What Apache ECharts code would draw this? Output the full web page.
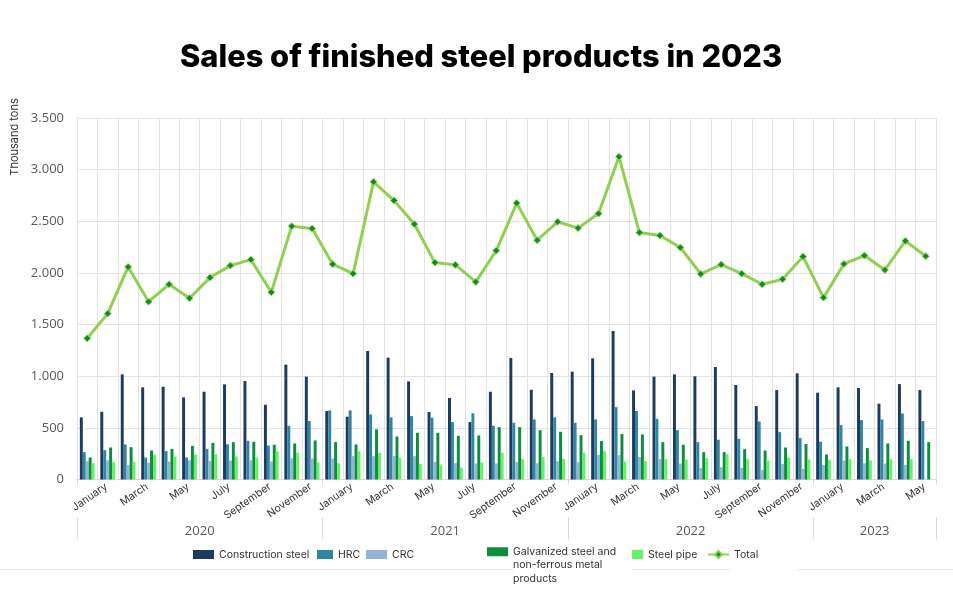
<!DOCTYPE html>
<html>
<head>
<meta charset="utf-8">
<script src="https://cdn.jsdelivr.net/npm/echarts@6.0.0/dist/echarts.min.js"></script>
<style>
  html, body { margin: 0; padding: 0; background: #fff; }
  #chart { width: 953px; height: 599px; }
</style>
</head>
<body>
<div id="chart"></div>
<script>
const titleText = 'Sales of finished steel products in 2023';
const yAxisTitle = 'Thousand tons';
const years = ['2020', '2021', '2022', '2023'];
const monthsPerYear = [12, 12, 12, 6];
const monthNames = ['January', 'February', 'March', 'April', 'May', 'June',
  'July', 'August', 'September', 'October', 'November', 'December'];
const yMin = 0, yMax = 3500, yStep = 500;

const seriesNames = ['Construction steel', 'HRC', 'CRC',
  'Galvanized steel and non-ferrous metal products', 'Steel pipe', 'Total'];
const galvLegendLines = ['Galvanized steel and', 'non-ferrous metal', 'products'];

const constructionSteel = [
  601, 656, 1018, 892, 898, 795, 850, 921, 953, 724, 1112, 996,
  663, 608, 1244, 1180, 950, 653, 789, 556, 850, 1177, 869, 1031,
  1044, 1173, 1438, 863, 996, 1018, 999, 1089, 915, 711, 866, 1028,
  840, 892, 886, 734, 924, 866];
const hrc = [
  265, 284, 339, 213, 275, 213, 297, 342, 375, 329, 520, 566,
  669, 669, 630, 601, 614, 598, 556, 640, 520, 549, 582, 601,
  549, 582, 701, 663, 588, 478, 362, 385, 394, 562, 459, 401,
  366, 527, 575, 582, 640, 566];
const crc = [
  178, 187, 142, 162, 174, 187, 178, 184, 187, 174, 207, 204,
  204, 226, 226, 226, 226, 171, 158, 155, 155, 168, 158, 178,
  168, 239, 236, 217, 197, 155, 110, 120, 113, 91, 149, 103,
  139, 184, 158, 155, 142, null];
const galvanized = [
  213, 310, 313, 281, 297, 326, 355, 362, 365, 336, 349, 378,
  362, 339, 485, 417, 452, 452, 423, 427, 507, 507, 478, 462,
  430, 372, 440, 436, 362, 336, 265, 265, 294, 281, 310, 343,
  242, 320, 304, 349, 375, 362];
const steelPipe = [
  158, 168, 171, 236, 223, 242, 245, 223, 210, 275, 259, 165,
  158, 275, 259, 210, 149, 139, 116, 165, 259, 197, 217, 200,
  259, 275, 174, 178, 197, 194, 207, 245, 197, 184, 213, 194,
  189, 197, 184, 197, 197, null];
const total = [
  1367, 1606, 2058, 1722, 1890, 1755, 1955, 2071, 2129, 1813, 2453, 2430,
  2085, 1993, 2882, 2701, 2472, 2100, 2078, 1913, 2216, 2676, 2317, 2495,
  2434, 2575, 3125, 2391, 2362, 2246, 1990, 2081, 1993, 1890, 1939, 2158,
  1761, 2087, 2168, 2029, 2310, 2162];

const barColors = ['#1d3a60', '#2f86a0', '#95b3d7', '#0b8f3e', '#63f263'];
const barData = [constructionSteel, hrc, crc, galvanized, steelPipe];

// derived categories
const categories = [];
const monthLabels = [];
const starts = [];
let acc = 0;
years.forEach((y, i) => {
  starts.push(acc);
  for (let m = 0; m < monthsPerYear[i]; m++) {
    categories.push(monthNames[m] + ' ' + y);
    monthLabels.push(monthNames[m]);
  }
  acc += monthsPerYear[i];
});
const N = categories.length;
const isStart = (i) => starts.indexOf(i) >= 0;

// title font size fitted to target width
const cnv = document.createElement('canvas').getContext('2d');
cnv.font = '800 28px Inter';
const titleSize = Math.round(28 * 603 / cnv.measureText(titleText).width * 10) / 10;

const GL = 77, GT = 118, GW = 859, GH = 361.5;
const fmtThousands = (v) => String(v).replace(/\B(?=(\d{3})+(?!\d))/g, '.');

const chart = echarts.init(document.getElementById('chart'), null, { renderer: 'canvas' });

const legendCommon = {
  orient: 'horizontal', padding: 0, itemGap: 0, selectedMode: false,
  textStyle: { fontFamily: 'Inter', fontSize: 10.5, color: '#333' }
};

const option = {
  backgroundColor: '#ffffff',
  animation: false,
  title: {
    text: titleText, left: 180, top: 42, padding: 0,
    textStyle: { fontFamily: 'Inter', fontWeight: 800, fontSize: titleSize, color: '#000' }
  },
  grid: [
    { left: GL, top: GT, width: GW, height: GH, outerBoundsMode: 'none', containLabel: false },
    { left: GL + 19, top: GT, width: GW, height: GH, outerBoundsMode: 'none', containLabel: false }
  ],
  xAxis: [
    {
      type: 'category', gridIndex: 0, data: categories, boundaryGap: true, position: 'bottom',
      axisLine: { show: true, lineStyle: { color: '#d9d9d9' } },
      axisTick: { show: true, interval: (i) => isStart(i), length: 5, lineStyle: { color: '#d9d9d9' } },
      axisLabel: { show: false },
      splitLine: { show: true, interval: 0, lineStyle: { color: '#e2e2e2' } }
    },
    {
      type: 'category', gridIndex: 0, data: categories, boundaryGap: true, position: 'bottom', offset: 38,
      axisLine: { show: false },
      axisTick: { show: true, interval: (i) => isStart(i), length: 22, lineStyle: { color: '#d9d9d9' } },
      axisLabel: { show: false }, splitLine: { show: false }
    },
    {
      type: 'value', gridIndex: 0, position: 'bottom', offset: 37, min: 0, max: N, interval: 3,
      axisLine: { show: false }, axisTick: { show: false }, splitLine: { show: false },
      axisLabel: {
        margin: 8, fontSize: 13, color: '#595959', fontFamily: 'Open Sans',
        showMinLabel: true, showMaxLabel: true,
        formatter: (v) => {
          for (let i = 0; i < years.length; i++) {
            if (Math.abs(starts[i] + monthsPerYear[i] / 2 - v) < 1e-6) return years[i];
          }
          return '';
        }
      }
    },
    {
      type: 'category', gridIndex: 1, data: monthLabels, boundaryGap: true, position: 'bottom',
      axisLine: { show: false }, axisTick: { show: false }, splitLine: { show: false },
      axisLabel: { interval: 1, rotate: 35, margin: 6, fontSize: 10.5, color: '#333', fontFamily: 'Inter' }
    }
  ],
  yAxis: [
    {
      type: 'value', gridIndex: 0, min: yMin, max: yMax, interval: yStep,
      axisLine: { show: false }, axisTick: { show: false },
      splitLine: { show: true, lineStyle: { color: '#e2e2e2' } },
      axisLabel: { margin: 13, fontSize: 13, color: '#595959', fontFamily: 'Open Sans', formatter: fmtThousands }
    },
    { type: 'value', gridIndex: 1, show: false }
  ],
  legend: [
    Object.assign({}, legendCommon, { data: [seriesNames[0]], left: 193, top: 549, itemWidth: 21, itemHeight: 9, icon: 'rect' }),
    Object.assign({}, legendCommon, { data: [seriesNames[1]], left: 317, top: 549, itemWidth: 16, itemHeight: 9, icon: 'rect' }),
    Object.assign({}, legendCommon, { data: [seriesNames[2]], left: 366, top: 549, itemWidth: 21, itemHeight: 9, icon: 'rect' }),
    Object.assign({}, legendCommon, {
      data: [seriesNames[3]], left: 487, top: 518, itemWidth: 21, itemHeight: 9, icon: 'rect',
      formatter: () => '\n\n' + galvLegendLines.join('\n'),
      textStyle: { fontFamily: 'Inter', fontSize: 10.5, color: '#333', lineHeight: 13.5 }
    }),
    Object.assign({}, legendCommon, { data: [seriesNames[4]], left: 632, top: 549, itemWidth: 11, itemHeight: 9, icon: 'rect' }),
    Object.assign({}, legendCommon, { data: [seriesNames[5]], left: 707, top: 549, itemWidth: 21, itemHeight: 9 })
  ],
  graphic: [
    {
      type: 'text', x: 15, y: 137, rotation: Math.PI / 2,
      style: { text: yAxisTitle, fontSize: 11, fontFamily: 'Inter', fill: '#333', align: 'center', verticalAlign: 'middle' }
    },
    { type: 'line', shape: { x1: 0, y1: 569.5, x2: 513, y2: 569.5 }, style: { stroke: '#e6e6e6', lineWidth: 1 } },
    { type: 'line', shape: { x1: 632, y1: 569.5, x2: 730, y2: 569.5 }, style: { stroke: '#e6e6e6', lineWidth: 1 } },
    { type: 'line', shape: { x1: 797, y1: 569.5, x2: 953, y2: 569.5 }, style: { stroke: '#e6e6e6', lineWidth: 1 } }
  ],
  series: barData.map((d, i) => ({
    type: 'bar', name: seriesNames[i], data: d, xAxisIndex: 0, yAxisIndex: 0,
    barGap: '0%', barCategoryGap: '28%',
    itemStyle: { color: barColors[i] }
  })).concat([{
    type: 'line', name: seriesNames[5], data: total, xAxisIndex: 0, yAxisIndex: 0,
    symbol: 'diamond', symbolSize: 7, z: 10,
    lineStyle: { color: '#8fd14f', width: 3 },
    itemStyle: { color: '#0f8a2e', borderColor: '#8fd14f', borderWidth: 1 }
  }])
};
chart.setOption(option);
</script>
</body>
</html>
